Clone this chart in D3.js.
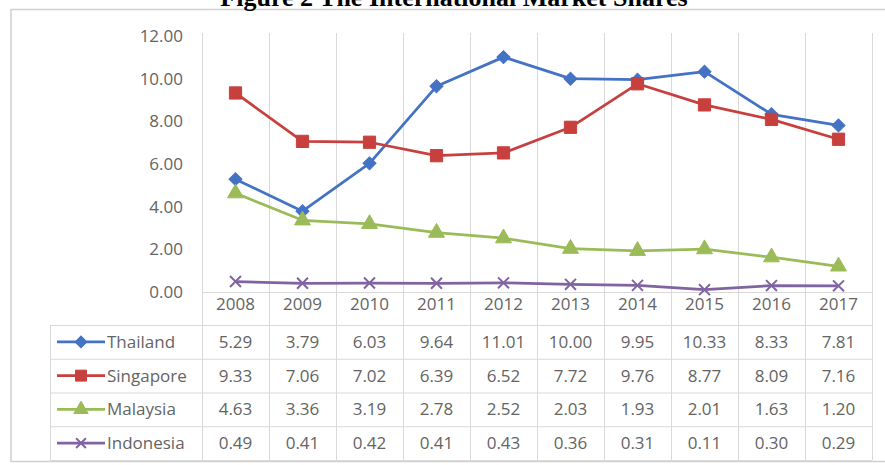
<!DOCTYPE html>
<html lang="en">
<head>
    <meta charset="UTF-8">
    <title>Figure 2 The International Market Shares</title>
    <script src="https://d3js.org/d3.v7.min.js"></script>
    <style>
        body { margin: 0; background: #fff; }
        svg text { font-family: "Open Sans", sans-serif; fill: #646464; }
    </style>
</head>
<body>
<svg width="885" height="465"></svg>
<script>
    const years = ["2008", "2009", "2010", "2011", "2012", "2013", "2014", "2015", "2016", "2017"];
    const names = ["Thailand", "Singapore", "Malaysia", "Indonesia"];
    const thailand = [5.29, 3.79, 6.03, 9.64, 11.01, 10.00, 9.95, 10.33, 8.33, 7.81];
    const singapore = [9.33, 7.06, 7.02, 6.39, 6.52, 7.72, 9.76, 8.77, 8.09, 7.16];
    const malaysia = [4.63, 3.36, 3.19, 2.78, 2.52, 2.03, 1.93, 2.01, 1.63, 1.20];
    const indonesia = [0.49, 0.41, 0.42, 0.41, 0.43, 0.36, 0.31, 0.11, 0.30, 0.29];
    const yTicks = [0, 2, 4, 6, 8, 10, 12];

    // marker: "diamond" is a square turned 45 degrees
    const series = [
        {name: names[0], values: thailand, color: "#4472c4", shape: d3.symbolSquare, rot: 45, size: 85},
        {name: names[1], values: singapore, color: "#c8403e", shape: d3.symbolSquare, rot: 0, size: 150},
        {name: names[2], values: malaysia, color: "#9bbb59", shape: d3.symbolTriangle, rot: 0, size: 110},
        {name: names[3], values: indonesia, color: "#8064a2", shape: d3.symbolX, rot: 0, size: 80}
    ];

    let svg = d3.select("svg");
    const grid = "#d9d9d9";

    // frame + title (title is cut by the top edge, as in the source picture)
    svg.append("rect")
        .attr("x", 11).attr("y", 9.5).attr("width", 880).attr("height", 452)
        .attr("fill", "none").attr("stroke", "#d0d0d0").attr("stroke-width", 1.5);
    svg.append("text")
        .attr("x", 454).attr("y", 6)
        .attr("text-anchor", "middle")
        .style("font-family", "'Liberation Serif', serif")
        .style("font-weight", "bold").style("font-size", "26px").style("fill", "#000")
        .text("Figure 2 The International Market Shares");

    let x = d3.scaleBand().domain(years).range([202, 872]);
    let y = d3.scaleLinear().domain([0, 12]).range([292, 36]);

    const tableTop = 325, rowH = 33.75, tableLeft = 50;
    const tableBottom = tableTop + rowH * names.length;

    // vertical grid lines at category borders
    let bounds = years.map(d => x(d)).concat([x.range()[1]]);
    svg.append("g").selectAll("line")
        .data(bounds)
        .enter().append("line")
        .attr("x1", d => d + 0.5).attr("x2", d => d + 0.5)
        .attr("y1", 33).attr("y2", tableBottom)
        .attr("stroke", grid).attr("stroke-width", 1);

    // table horizontal lines
    let rowLines = d3.range(names.length + 1).map(i => tableTop + i * rowH);
    svg.append("g").selectAll("line")
        .data(rowLines)
        .enter().append("line")
        .attr("x1", tableLeft).attr("x2", x.range()[1])
        .attr("y1", d => d + 0.5).attr("y2", d => d + 0.5)
        .attr("stroke", grid);
    svg.append("line")
        .attr("x1", tableLeft + 0.5).attr("x2", tableLeft + 0.5)
        .attr("y1", tableTop).attr("y2", tableBottom)
        .attr("stroke", grid);
    // category axis line
    svg.append("line")
        .attr("x1", x.range()[0]).attr("x2", x.range()[1])
        .attr("y1", y(0) + 0.5).attr("y2", y(0) + 0.5)
        .attr("stroke", grid);

    // y axis
    let yAxis = svg.append("g")
        .attr("transform", "translate(183,0)")
        .call(d3.axisLeft(y).tickValues(yTicks).tickFormat(d3.format(".2f")).tickSize(0).tickPadding(0));
    yAxis.select(".domain").remove();
    yAxis.selectAll("text").style("font-size", "17px").style("font-family", "'Open Sans', sans-serif").attr("fill", "#646464");

    // x axis (header row of data table)
    let xAxis = svg.append("g")
        .attr("transform", "translate(0," + y(0) + ")")
        .call(d3.axisBottom(x).tickSize(0).tickPadding(6));
    xAxis.select(".domain").remove();
    xAxis.selectAll("text").style("font-size", "17px").style("font-family", "'Open Sans', sans-serif").attr("fill", "#646464");

    // lines + markers
    let line = d3.line()
        .x((d, i) => x(years[i]) + x.bandwidth() / 2)
        .y(d => y(d));

    function marker(sel, s, scale) {
        sel.attr("d", d3.symbol().type(s.shape).size(s.size * scale))
            .attr("fill", s.shape === d3.symbolX ? "none" : s.color)
            .attr("stroke", s.color)
            .attr("stroke-width", s.shape === d3.symbolX ? 2 : 1);
    }

    series.forEach(function (s) {
        svg.append("path")
            .datum(s.values)
            .attr("d", line)
            .attr("fill", "none")
            .attr("stroke", s.color)
            .attr("stroke-width", 2.75)
            .attr("stroke-linejoin", "round");

        svg.append("g").selectAll("path")
            .data(s.values)
            .enter().append("path")
            .attr("transform", (d, i) => "translate(" + (x(years[i]) + x.bandwidth() / 2) + "," + y(d) + ") rotate(" + s.rot + ")")
            .call(marker, s, 1);
    });

    // data table rows
    series.forEach(function (s, r) {
        let cy = tableTop + r * rowH + rowH / 2;
        let g = svg.append("g");
        g.append("line")
            .attr("x1", 57).attr("x2", 105)
            .attr("y1", cy).attr("y2", cy)
            .attr("stroke", s.color).attr("stroke-width", 2.75);
        g.append("path")
            .attr("transform", "translate(81," + cy + ") rotate(" + s.rot + ")")
            .call(marker, s, 0.8);
        g.append("text")
            .attr("x", 107).attr("y", cy).attr("dy", "0.35em")
            .style("font-size", "17px")
            .text(s.name);
        g.selectAll("text.val")
            .data(s.values)
            .enter().append("text")
            .attr("class", "val")
            .attr("x", (d, i) => x(years[i]) + x.bandwidth() / 2)
            .attr("y", cy).attr("dy", "0.35em")
            .attr("text-anchor", "middle")
            .style("font-size", "17px")
            .text(d => d3.format(".2f")(d));
    });
</script>
</body>
</html>
